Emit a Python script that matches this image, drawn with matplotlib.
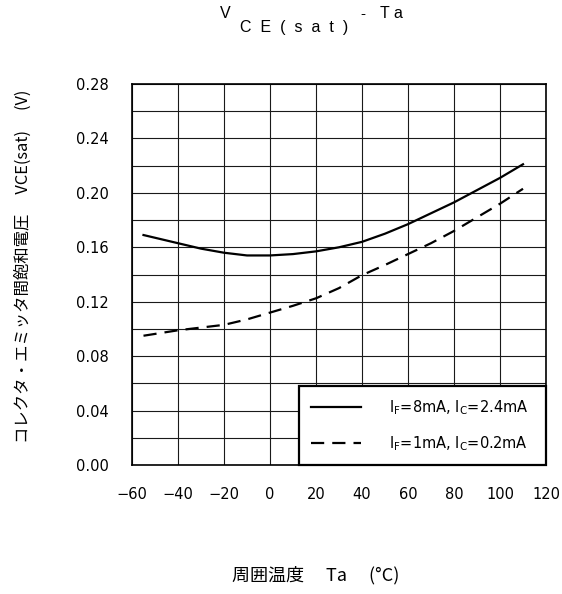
import numpy as np
import matplotlib
matplotlib.use("Agg")
import matplotlib.pyplot as plt
from matplotlib.ticker import MultipleLocator

plt.rcParams['font.family'] = ['DejaVu Sans', 'Noto Sans CJK JP']
plt.rcParams['lines.scale_dashes'] = False
plt.rcParams['axes.unicode_minus'] = True

# data
ta_8ma = [-55, -40, -30, -20, -10, 0, 10, 20, 30, 40, 50, 60, 70, 80, 90, 100, 110]
vce_8ma = [0.169, 0.163, 0.159, 0.156, 0.154, 0.154, 0.155, 0.157, 0.160, 0.164,
           0.170, 0.177, 0.185, 0.193, 0.202, 0.211, 0.221]
ta_1ma = [-55, -40, -30, -20, -10, 0, 10, 20, 30, 40, 50, 60, 70, 80, 90, 100, 110]
vce_1ma = [0.095, 0.099, 0.101, 0.103, 0.107, 0.112, 0.117, 0.1225, 0.130, 0.1395,
           0.147, 0.155, 0.163, 0.172, 0.182, 0.192, 0.203]
labels = [r'I$_{\mathregular{F}}$=8mA, I$_{\mathregular{C}}$=2.4mA',
          r'I$_{\mathregular{F}}$=1mA, I$_{\mathregular{C}}$=0.2mA']
xticks = [-60, -40, -20, 0, 20, 40, 60, 80, 100, 120]
yticks = [0.00, 0.04, 0.08, 0.12, 0.16, 0.20, 0.24, 0.28]

W, H = 562, 594
fig = plt.figure(figsize=(W / 100, H / 100), dpi=100)
ax = fig.add_axes([132 / W, 1 - 465 / H, 414 / W, 381 / H])

ax.plot(ta_8ma, vce_8ma, color='black', lw=1.6, label=labels[0])
ax.plot(ta_1ma, vce_1ma, color='black', lw=1.6, dashes=(9.5, 5.8), label=labels[1])

ax.set_xlim(-60, 120)
ax.set_ylim(0, 0.28)
ax.set_xticks(xticks)
ax.set_yticks(yticks)
ax.set_yticklabels(['%.2f' % v for v in yticks])
ax.xaxis.set_minor_locator(MultipleLocator(20))
ax.yaxis.set_minor_locator(MultipleLocator(0.02))
ax.grid(which='both', color='#1a1a1a', lw=0.8)
ax.tick_params(which='both', length=0, labelsize=10.5)
ax.tick_params(axis='y', pad=16.5)
ax.tick_params(axis='x', pad=16)
for sp in ax.spines.values():
    sp.set_linewidth(1.2)
    sp.set_color('black')

leg = ax.legend(loc='lower left', bbox_to_anchor=(0.403, 0.0, 0.597, 0.213),
                mode='expand', borderaxespad=0, fancybox=False, framealpha=1,
                edgecolor='black', handlelength=3.4, handletextpad=1.9,
                labelspacing=1.15, borderpad=0.85, fontsize=10.5)
leg.get_frame().set_linewidth(1.6)

# title: V with spaced subscript CE(sat) - Ta
fig.text(220 / W, 1 - 18 / H, 'V', fontsize=11.5, ha='left', va='baseline',
         family='Liberation Sans')
fig.text(240 / W, 1 - 32 / H, 'C  E  (  s  a  t  )', fontsize=11.5, ha='left',
         va='baseline', family='Liberation Sans')
fig.text(360 / W, 1 - 18 / H, '-', fontsize=11, ha='left', va='baseline',
         family='Liberation Sans')
fig.text(380 / W, 1 - 18 / H, 'T a', fontsize=11.5, ha='left', va='baseline',
         family='Liberation Sans')

fig.text(23 / W, 1 - 266 / H, 'コレクタ・エミッタ間飽和電圧　 VCE(sat)　 (V)',
         rotation=90, ha='center', va='center', fontsize=11.8,
         family=['Noto Sans CJK JP', 'DejaVu Sans'])
fig.text(232 / W, 1 - 575 / H, '周囲温度　 Ta　 (°C)', ha='left', va='center',
         fontsize=13, family=['Noto Sans CJK JP', 'DejaVu Sans'])

fig.savefig('out.png', dpi=100)
